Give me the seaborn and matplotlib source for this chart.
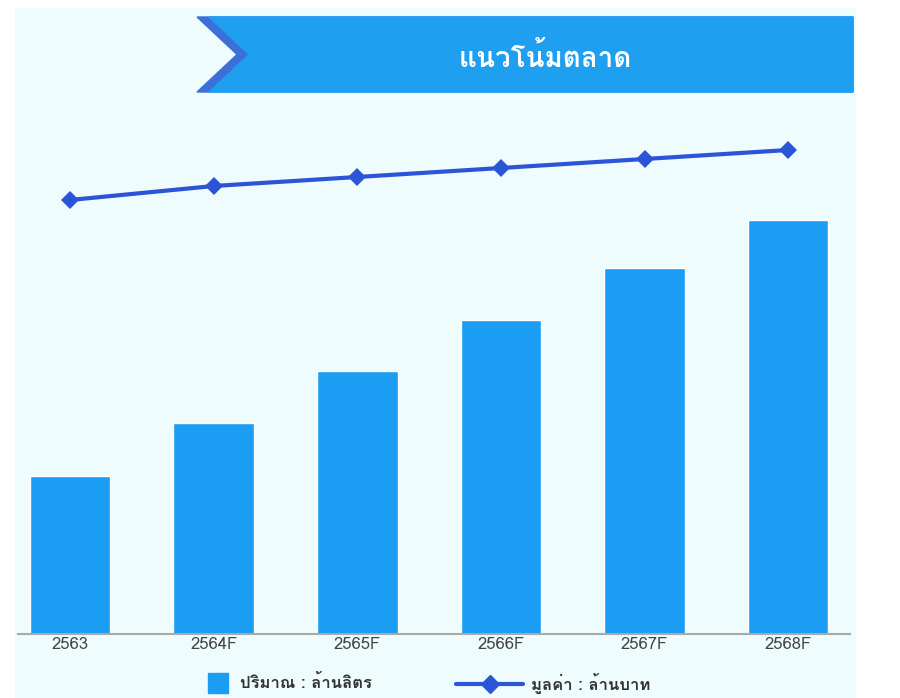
import matplotlib
matplotlib.use("Agg")
import matplotlib.pyplot as plt
from matplotlib import font_manager
from matplotlib.patches import Rectangle, Polygon
from matplotlib.lines import Line2D
from matplotlib.ft2font import FT2Font
import seaborn as sns
import pandas as pd

# ---- data ----
years = ["2563", "2564F", "2565F", "2566F", "2567F", "2568F"]
volume = [158, 211, 263, 314, 366, 414]      # ปริมาณ : ล้านลิตร (relative)
value = [434, 448, 457, 466, 475, 484]       # มูลค่า : ล้านบาท (relative)
title_text = "แนวโน้มตลาด"
legend_labels = ["ปริมาณ : ล้านลิตร", "มูลค่า : ล้านบาท"]

sns.set_theme(style="white")

# find a font with Thai glyphs
thai_font = None
for f in font_manager.fontManager.ttflist:
    try:
        cm = FT2Font(f.fname).get_charmap()
        if 0x0E41 in cm and 0x0E19 in cm:
            thai_font = f.name
            break
    except Exception:
        pass
fam = [thai_font, "DejaVu Sans"] if thai_font else ["DejaVu Sans"]
plt.rcParams["font.family"] = fam

W, H = 900, 698
fig = plt.figure(figsize=(W / 100, H / 100), dpi=100, facecolor="white")

# light background panel
fig.patches.append(Rectangle((15 / W, 0), (855 - 15) / W, 1 - 8 / H,
                             transform=fig.transFigure, color="#effcfd", zorder=-10))

# banner
bx0, bx1, by0, by1 = 197 / W, 853 / W, 1 - 92 / H, 1 - 17 / H
notch = 40 / W
fig.patches.append(Polygon([(bx0, by1), (bx1, by1), (bx1, by0), (bx0, by0),
                            (bx0 + notch, (by0 + by1) / 2)], closed=True,
                           transform=fig.transFigure, color="#3d6fd8", zorder=-5))
fig.patches.append(Polygon([(bx0 + 12 / W, by1), (bx1, by1), (bx1, by0), (bx0 + 12 / W, by0),
                            (bx0 + notch + 12 / W, (by0 + by1) / 2)], closed=True,
                           transform=fig.transFigure, color="#1e9ff0", zorder=-5))
fig.text(545 / W, 1 - 57 / H, title_text, color="white", fontsize=20, fontweight="bold",
         ha="center", va="center", zorder=2)

# axes: bottom at y=634, top at y=100 (value = 634 - y)
ax_left, ax_right = 18, 850
ax_bottom, ax_top = 634, 100
ax = fig.add_axes([ax_left / W, 1 - ax_bottom / H, (ax_right - ax_left) / W,
                   (ax_bottom - ax_top) / H])
ax.set_zorder(5)
ax.set_facecolor("none")

df = pd.DataFrame({"year": years, "volume": volume, "value": value})
sns.barplot(data=df, x="year", y="volume", color="#1a9df2", width=0.56,
            saturation=1, ax=ax, zorder=2)
sns.lineplot(data=df, x="year", y="value", color="#2b55d6", linewidth=3,
             marker="D", markersize=9, markeredgewidth=0, ax=ax, zorder=3, sort=False)

ax.set_ylim(0, ax_bottom - ax_top)
ax.set_xlim(-0.362, 5.43)
ax.set_xlabel("")
ax.set_ylabel("")
ax.set_yticks([])
for s in ["top", "right", "left"]:
    ax.spines[s].set_visible(False)
ax.spines["bottom"].set_color("#a9a9a9")
ax.spines["bottom"].set_linewidth(1.5)
ax.tick_params(axis="x", length=0, pad=2, labelsize=12, labelcolor="#444444")

h_bar = Line2D([0], [0], color="#1a9df2", lw=0, marker="s", markersize=14)
h_line = Line2D([0], [0], color="#2b55d6", lw=3, marker="D", markersize=9)
leg1 = fig.legend([h_bar], [legend_labels[0]], loc="center left",
                  bbox_to_anchor=(198 / W, 1 - 683 / H), frameon=False,
                  handlelength=1.4, handletextpad=0.6, borderpad=0,
                  labelcolor="#333333", prop={"weight": "bold", "size": 12})
leg2 = fig.legend([h_line], [legend_labels[1]], loc="center left",
                  bbox_to_anchor=(448 / W, 1 - 683 / H), frameon=False,
                  handlelength=4.0, handletextpad=0.5, borderpad=0,
                  labelcolor="#333333", prop={"weight": "bold", "size": 12})

fig.savefig("out.png", dpi=100, facecolor="white")
